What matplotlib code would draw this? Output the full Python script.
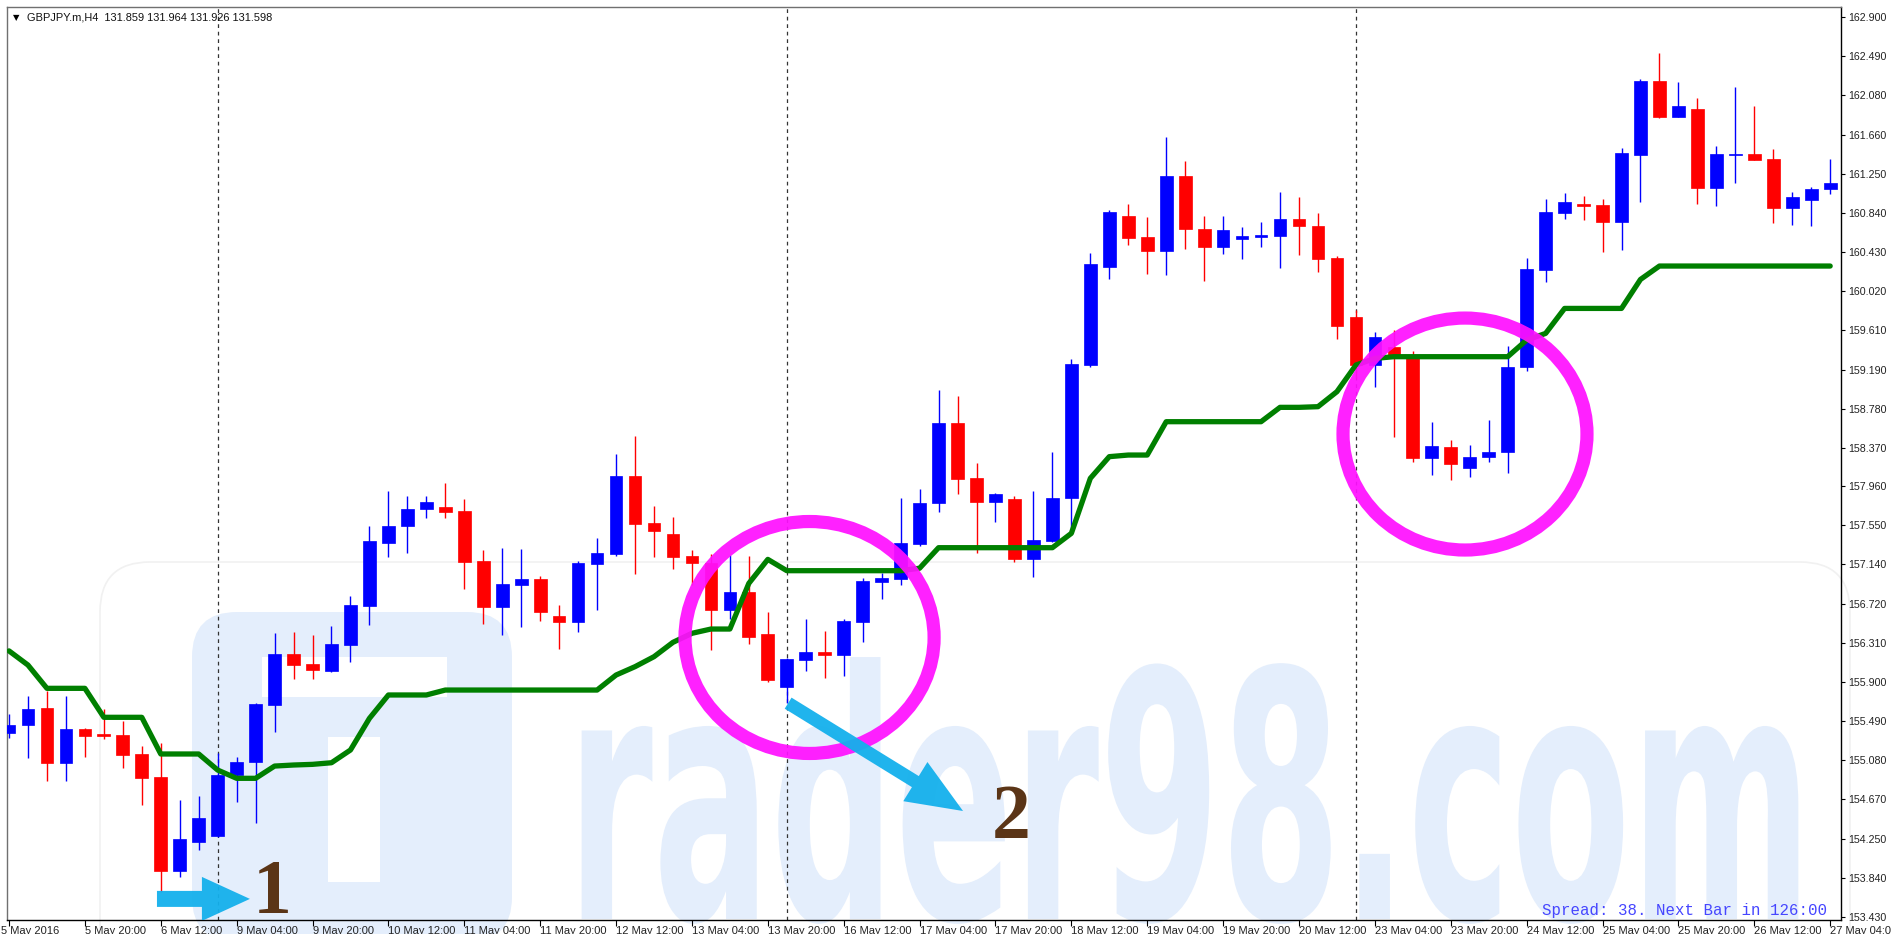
import matplotlib
matplotlib.use('Agg')
import matplotlib.pyplot as plt
import matplotlib.transforms as mtransforms
from matplotlib.patches import Ellipse, FancyArrow, FancyBboxPatch, Rectangle
from matplotlib.patheffects import AbstractPathEffect
import numpy as np

# ---------------- data ----------------
opens = [155.369, 155.450, 155.632, 155.047, 155.404, 155.355, 155.341, 155.145, 154.906, 153.914,
         154.222, 154.285, 154.924, 155.057, 155.660, 156.194, 156.092, 156.022, 156.292, 156.706,
         157.369, 157.544, 157.719, 157.747, 157.702, 157.176, 156.695, 156.920, 156.990, 156.601,
         156.534, 157.148, 157.253, 158.074, 157.576, 157.463, 157.228, 157.158, 156.657, 156.853,
         156.404, 155.846, 156.134, 156.215, 156.183, 156.534, 156.955, 156.983, 157.351, 157.783,
         158.625, 158.046, 157.793, 157.825, 157.193, 157.390, 157.842, 159.238, 160.273, 160.806,
         160.582, 160.438, 161.231, 160.669, 160.477, 160.564, 160.589, 160.599, 160.771, 160.705,
         160.361, 159.747, 159.238, 159.431, 159.343, 158.256, 158.372, 158.158, 158.273, 158.319,
         159.213, 160.238, 160.841, 160.932, 160.922, 160.746, 161.448, 162.230, 161.844, 161.928,
         161.097, 161.448, 161.455, 161.406, 160.887, 160.974, 161.090]
closes = [155.450, 155.618, 155.047, 155.404, 155.334, 155.334, 155.134, 154.896, 153.914, 154.250,
          154.468, 154.924, 155.064, 155.667, 156.194, 156.081, 156.029, 156.302, 156.713, 157.390,
          157.548, 157.723, 157.800, 157.695, 157.169, 156.695, 156.930, 156.990, 156.636, 156.534,
          157.151, 157.263, 158.074, 157.569, 157.491, 157.218, 157.158, 156.657, 156.853, 156.380,
          155.924, 156.141, 156.215, 156.183, 156.544, 156.965, 157.000, 157.362, 157.790, 158.625,
          158.039, 157.793, 157.877, 157.193, 157.397, 157.835, 159.249, 160.298, 160.845, 160.571,
          160.438, 161.231, 160.666, 160.477, 160.659, 160.596, 160.606, 160.771, 160.701, 160.350,
          159.652, 159.238, 159.536, 159.343, 158.256, 158.386, 158.196, 158.273, 158.319, 159.221,
          160.245, 160.844, 160.957, 160.915, 160.746, 161.465, 162.230, 161.844, 161.967, 161.097,
          161.455, 161.455, 161.395, 160.887, 161.002, 161.090, 161.157]
highs = [155.566, 155.755, 155.811, 155.755, 155.415, 155.615, 155.492, 155.229, 155.264, 154.661,
         154.706, 155.152, 155.117, 155.678, 156.422, 156.429, 156.393, 156.492, 156.807, 157.544,
         157.916, 157.863, 157.863, 158.000, 157.825, 157.292, 157.316, 157.302, 157.018, 156.716,
         157.176, 157.418, 158.302, 158.491, 157.755, 157.639, 157.292, 157.250, 157.239, 157.228,
         156.643, 156.160, 156.565, 156.439, 156.565, 157.000, 157.046, 157.835, 157.930, 158.975,
         158.912, 158.204, 157.888, 157.860, 157.916, 158.326, 159.298, 160.421, 160.869, 160.933,
         160.796, 161.634, 161.385, 160.806, 160.806, 160.694, 160.747, 161.062, 161.010, 160.834,
         160.385, 159.817, 159.589, 159.606, 159.385, 158.635, 158.449, 158.396, 158.659, 159.438,
         160.360, 160.981, 161.044, 161.020, 160.981, 161.518, 162.244, 162.518, 162.220, 162.044,
         161.543, 162.167, 161.967, 161.508, 161.062, 161.115, 161.406]
lows = [155.310, 155.099, 154.861, 154.861, 155.110, 155.299, 154.994, 154.608, 153.696, 153.854,
        154.135, 154.270, 154.636, 154.422, 155.380, 155.930, 155.930, 156.011, 156.116, 156.502,
        157.214, 157.256, 157.632, 157.632, 156.881, 156.509, 156.394, 156.481, 156.544, 156.246,
        156.432, 156.657, 157.232, 157.043, 157.218, 157.095, 156.923, 156.236, 156.565, 156.306,
        155.899, 155.681, 156.022, 155.948, 155.969, 156.320, 156.780, 156.920, 157.334, 157.688,
        157.877, 157.257, 157.583, 157.169, 157.004, 157.379, 157.467, 159.214, 160.147, 160.498,
        160.196, 160.185, 160.459, 160.126, 160.403, 160.350, 160.484, 160.263, 160.396, 160.221,
        159.512, 159.100, 159.010, 158.477, 158.221, 158.080, 158.028, 158.056, 158.221, 158.105,
        159.175, 160.108, 160.771, 160.764, 160.424, 160.448, 160.957, 161.834, 161.844, 160.932,
        160.911, 161.157, 161.395, 160.736, 160.711, 160.701, 161.037]
line_values = [156.230, 156.081, 155.836, 155.836, 155.836, 155.531, 155.531, 155.531, 155.145, 155.145,
               155.145, 154.976, 154.889, 154.889, 155.018, 155.029, 155.036, 155.053, 155.187, 155.520,
               155.766, 155.766, 155.766, 155.818, 155.818, 155.818, 155.818, 155.818, 155.818, 155.818,
               155.818, 155.818, 155.976, 156.064, 156.169, 156.320, 156.415, 156.460, 156.460, 156.941,
               157.193, 157.074, 157.074, 157.074, 157.074, 157.074, 157.074, 157.074, 157.100, 157.316,
               157.316, 157.316, 157.316, 157.316, 157.316, 157.316, 157.467, 158.046, 158.274, 158.291,
               158.291, 158.642, 158.642, 158.642, 158.642, 158.642, 158.642, 158.793, 158.793, 158.800,
               158.958, 159.238, 159.308, 159.326, 159.326, 159.326, 159.326, 159.326, 159.326, 159.326,
               159.501, 159.571, 159.834, 159.834, 159.834, 159.834, 160.139, 160.280, 160.280, 160.280,
               160.280, 160.280, 160.280, 160.280, 160.280, 160.280, 160.280]
xtick_labels = ["5 May 2016", "5 May 20:00", "6 May 12:00", "9 May 04:00", "9 May 20:00",
                "10 May 12:00", "11 May 04:00", "11 May 20:00", "12 May 12:00", "13 May 04:00",
                "13 May 20:00", "16 May 12:00", "17 May 04:00", "17 May 20:00", "18 May 12:00",
                "19 May 04:00", "19 May 20:00", "20 May 12:00", "23 May 04:00", "23 May 20:00",
                "24 May 12:00", "25 May 04:00", "25 May 20:00", "26 May 12:00", "27 May 04:00"]
ytick_values = [162.900, 162.490, 162.080, 161.660, 161.250, 160.840, 160.430, 160.020, 159.610,
                159.190, 158.780, 158.370, 157.960, 157.550, 157.140, 156.720, 156.310, 155.900,
                155.490, 155.080, 154.670, 154.250, 153.840, 153.430]
separator_bars = [11, 41, 71]
header = "GBPJPY.m,H4  131.859 131.964 131.926 131.598"
footer = "Spread: 38. Next Bar in 126:00"
watermark = "rader98.com"

# ---------------- figure ----------------
W, H = 1891, 934
fig = plt.figure(figsize=(W / 100, H / 100), dpi=100)
fig.patch.set_facecolor('white')
ax = fig.add_axes([7 / W, 14 / H, (1841 - 7) / W, (920 - 7) / H])
ax.set_facecolor('none')
ax.set_xlim(-0.105, 96.57)
ax.set_ylim(153.398, 163.006)

pix = mtransforms.Affine2D().scale(1, -1).translate(0, H)  # pixel coords, y down


class Stretch(AbstractPathEffect):
    """Draw text glyphs stretched vertically around a baseline (condensed look)."""
    def __init__(self, x0, y_from, y_to, sy):
        super().__init__()
        self.x0, self.y_from, self.y_to, self.sy = x0, y_from, y_to, sy

    def draw_path(self, renderer, gc, tpath, affine, rgbFace=None):
        t = affine + mtransforms.Affine2D().translate(0, -self.y_from).scale(1, self.sy).translate(0, self.y_to)
        renderer.draw_path(gc, tpath, t, rgbFace)


# watermark (light blue)
wm = '#e4eefc'
ax.add_patch(FancyBboxPatch((100, 562), 1750, 450, boxstyle='round,pad=0,rounding_size=50',
                            transform=pix, facecolor='none', edgecolor='#f1f1f1', lw=1.2, zorder=0.4, clip_on=False))
ax.add_patch(FancyBboxPatch((192, 612), 320, 330, boxstyle='round,pad=0,rounding_size=45',
                            transform=pix, facecolor=wm, edgecolor='none', zorder=0.5, clip_on=False))
ax.add_patch(Rectangle((262, 657), 185, 40, transform=pix, facecolor='white', edgecolor='none', zorder=0.6))
ax.add_patch(Rectangle((328, 737), 52, 145, transform=pix, facecolor='white', edgecolor='none', zorder=0.6))

wm_left, wm_right, wm_base, wm_top = 567, 1812, 919, 657
nat_base = 880
wt = ax.text(wm_left, nat_base, watermark, transform=pix, fontsize=100, fontweight='bold', color=wm,
             family='DejaVu Sans', ha='left', va='baseline', zorder=0.5)
fig.canvas.draw()
r = fig.canvas.get_renderer()
w0 = wt.get_window_extent(r).width
wt.set_fontsize(100 * (wm_right - wm_left) / w0)
fs_px = wt.get_fontsize() * 100 / 72
sy = (wm_base - wm_top) / (0.76 * fs_px)
wt.set_path_effects([Stretch(wm_left, H - nat_base, H - wm_base, sy)])

# separators
for b in separator_bars:
    ax.axvline(b, color='#333333', lw=0.9, ls=(0, (3, 3)), zorder=1)

# candles
x = np.arange(len(opens))
o = np.array(opens); c = np.array(closes); h = np.array(highs); l = np.array(lows)
cols = np.where(c >= o, '#0000ff', '#ff0000')
ax.vlines(x, l, h, colors=cols, lw=1.0, zorder=2)
ax.bar(x, np.maximum(np.abs(c - o), 0.012), bottom=np.minimum(o, c), width=0.67,
       color=cols, edgecolor=cols, lw=0.5, zorder=3)

# indicator line
ax.plot(x, line_values, color='#007f00', lw=3.8, solid_joinstyle='round', solid_capstyle='round', zorder=4)

# axes styling
for s in ['left', 'top']:
    ax.spines[s].set_color('#707070')
for s in ['right', 'bottom']:
    ax.spines[s].set_color('black')
for s in ax.spines.values():
    s.set_linewidth(1.0)
ax.yaxis.tick_right()
ax.set_yticks(ytick_values)
ax.set_yticklabels([f"{v:.3f}" for v in ytick_values], family='Liberation Sans', fontsize=7.7, color='#222222')
ax.set_xticks(np.arange(0, 97, 4))
ax.set_xticklabels(xtick_labels, family='Liberation Sans', fontsize=8.0, color='#222222', ha='left')
ax.tick_params(axis='y', length=3, width=0.8, pad=2.5, direction='out')
ax.tick_params(axis='x', length=4, width=0.8, pad=0.5, direction='out')
first = ax.get_xticklabels()[0]
first.set_transform(first.get_transform() + mtransforms.ScaledTranslation(-8 / 100, 0, fig.dpi_scale_trans))

# header / footer
fig.text(13 / W, 1 - 18 / H, "\u25BC", fontsize=6, va='center', ha='left', family='DejaVu Sans')
fig.text(27 / W, 1 - 18 / H, header, fontsize=7.9, va='center', ha='left', family='Liberation Sans', color='#111111')
ax.text(1827, 915, footer, transform=pix, fontsize=11.3, family='Liberation Mono', color='#4646ff',
        ha='right', va='baseline', zorder=6)

# annotations: magenta ellipses
ax.add_patch(Ellipse((42.2, 156.371), 13.13, 2.441, fill=False, edgecolor='#ff10ff', lw=9.5, alpha=0.93, zorder=5))
ax.add_patch(Ellipse((76.75, 158.512), 12.86, 2.441, fill=False, edgecolor='#ff10ff', lw=9.5, alpha=0.93, zorder=5))

# arrows (anchored to data, drawn in display pixels)
def data2pix(xv, yv):
    return ax.transData.transform((xv, yv))

p0 = data2pix(7.8, 153.62); p1 = data2pix(12.7, 153.62)
ax.add_patch(FancyArrow(p0[0], p0[1], p1[0] - p0[0], p1[1] - p0[1], width=16, head_width=44, head_length=48,
                        length_includes_head=True, transform=None, color='#14b0ec', alpha=0.95, lw=0, zorder=6))
q0 = data2pix(41.07, 155.68); q1 = data2pix(50.29, 154.545)
ax.add_patch(FancyArrow(q0[0], q0[1], q1[0] - q0[0], q1[1] - q0[1], width=13, head_width=46, head_length=56,
                        length_includes_head=True, transform=None, color='#14b0ec', alpha=0.95, lw=0, zorder=6))

ax.text(13.86, 153.467, "1", fontsize=56, fontweight='bold', family='Liberation Serif', color='#5b3517',
        ha='center', va='baseline', zorder=6)
ax.text(52.82, 154.261, "2", fontsize=56, fontweight='bold', family='Liberation Serif', color='#5b3517',
        ha='center', va='baseline', zorder=6)

fig.savefig('out.png', dpi=100, facecolor='white')
